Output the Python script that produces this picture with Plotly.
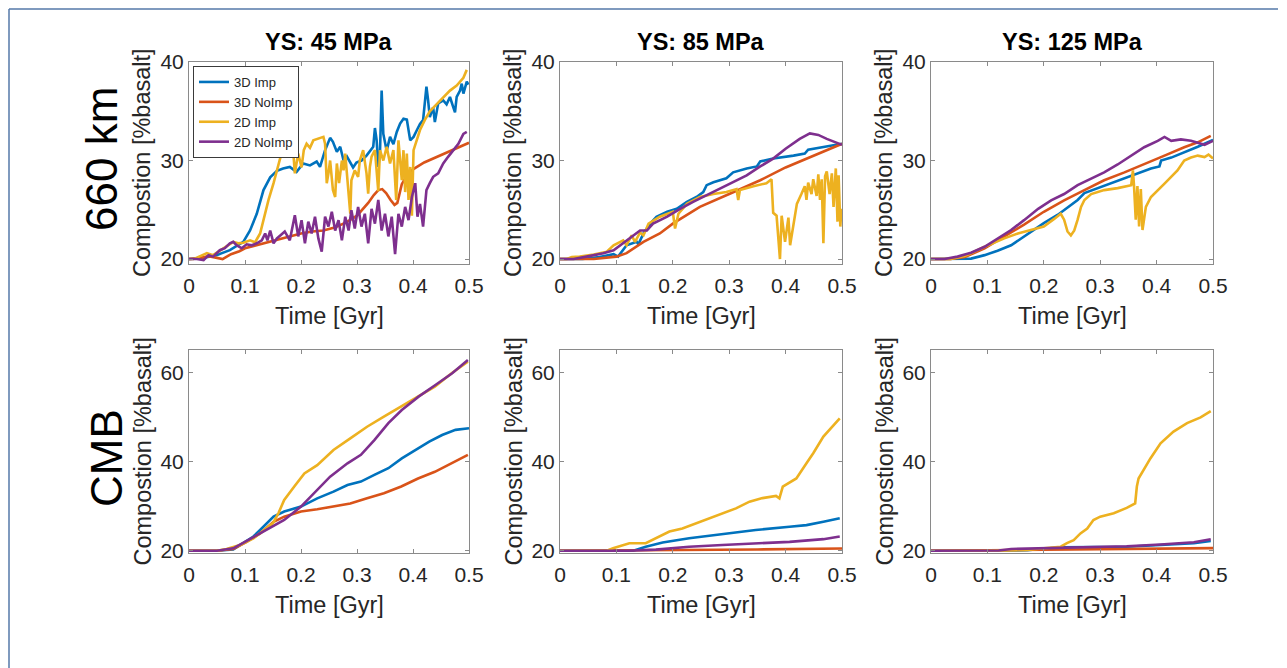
import plotly.graph_objects as go

# ---- series metadata ----
series_names = ["3D Imp", "3D NoImp", "2D Imp", "2D NoImp"]
series_colors = ["#0072BD", "#D95319", "#EDB120", "#7E2F8E"]
col_titles = ["YS: 45 MPa", "YS: 85 MPa", "YS: 125 MPa"]
row_titles = ["660 km", "CMB"]
x_ticks = [0, 0.1, 0.2, 0.3, 0.4, 0.5]
x_ticktext = ["0", "0.1", "0.2", "0.3", "0.4", "0.5"]
y_ticks_660 = [20, 30, 40]
y_ticks_cmb = [20, 40, 60]

# ---- 660 km, YS 45 MPa ----
t_660_45_3dimp = [0, 0.02, 0.049, 0.073, 0.097, 0.103, 0.109, 0.121, 0.133, 0.145, 0.157, 0.168, 0.18, 0.192,
                  0.204, 0.216, 0.228, 0.234, 0.243, 0.252, 0.257, 0.264, 0.27, 0.276, 0.282, 0.293, 0.299,
                  0.308, 0.317, 0.329, 0.332, 0.335, 0.338, 0.341, 0.344, 0.347, 0.353, 0.359, 0.365, 0.371,
                  0.377, 0.383, 0.389, 0.395, 0.401, 0.407, 0.4125, 0.418, 0.424, 0.427, 0.43, 0.436, 0.439,
                  0.445, 0.454, 0.46, 0.466, 0.472, 0.475, 0.478, 0.484, 0.487, 0.49, 0.496, 0.499]
v_660_45_3dimp = [20.0, 20.07, 20.4, 20.9, 21.75, 22.3, 22.9, 24.6, 27.0, 28.3, 28.95, 29.2, 29.35, 28.85,
                  29.7, 29.5, 29.9, 29.35, 31.05, 32.3, 31.9, 30.9, 31.4, 30.0, 30.4, 29.3, 29.8,
                  30.0, 30.5, 31.4, 33.3, 32.1, 29.35, 30.7, 37.1, 32.7, 31.0, 32.4, 31.65, 32.9,
                  33.75, 34.25, 34.15, 32.05, 32.4, 33.1, 33.7, 34.1, 37.5, 36.1, 34.4, 35.4, 33.9,
                  35.8, 36.1, 35.7, 36.45, 35.4, 34.9, 36.45, 37.1, 37.8, 36.8, 38.0, 37.7]

t_660_45_3dno = [0, 0.02, 0.035, 0.05, 0.06, 0.075, 0.09, 0.1, 0.12, 0.15, 0.18, 0.2, 0.22, 0.24, 0.26, 0.28,
                 0.3, 0.31, 0.32, 0.33, 0.338, 0.345, 0.352, 0.36, 0.367, 0.372, 0.38, 0.39, 0.4, 0.42, 0.44,
                 0.46, 0.48, 0.5]
v_660_45_3dno = [20.0, 20.1, 20.3, 20.1, 20.0, 20.5, 20.8, 21.1, 21.4, 21.8, 22.3, 22.6, 22.8, 22.9, 23.2, 23.7,
                 24.4, 25.0, 25.7, 26.5, 27.0, 27.1, 26.7, 26.0, 25.5, 25.7, 27.6, 28.6, 29.1, 29.8, 30.3,
                 30.8, 31.3, 31.8]

t_660_45_2dimp = [0, 0.008, 0.02, 0.032, 0.043, 0.055, 0.067, 0.079, 0.088, 0.097, 0.109, 0.118, 0.127, 0.133,
                  0.142, 0.151, 0.16, 0.165, 0.171, 0.177, 0.18, 0.186, 0.189, 0.195, 0.201, 0.205, 0.21,
                  0.216, 0.222, 0.231, 0.24, 0.243, 0.246, 0.249, 0.252, 0.257, 0.261, 0.264, 0.268, 0.273,
                  0.276, 0.279, 0.285, 0.288, 0.29, 0.296, 0.302, 0.305, 0.311, 0.317, 0.32, 0.323, 0.326,
                  0.332, 0.335, 0.338, 0.341, 0.347, 0.353, 0.359, 0.365, 0.37, 0.374, 0.38, 0.383, 0.386,
                  0.389, 0.392, 0.395, 0.398, 0.401, 0.407, 0.4125, 0.421, 0.43, 0.442, 0.454, 0.466, 0.478,
                  0.49, 0.496]
v_660_45_2dimp = [20.0, 20.0, 20.3, 20.6, 20.4, 20.85, 21.25, 21.75, 21.6, 21.65, 21.9, 21.7, 22.6, 23.95,
                  26.0, 27.7, 29.7, 30.7, 31.55, 31.4, 30.4, 31.05, 28.7, 30.7, 29.3, 31.05, 31.7,
                  31.3, 32.05, 32.2, 32.4, 31.7, 27.7, 28.7, 30.0, 27.0, 26.3, 29.7, 27.7, 30.0,
                  29.0, 30.7, 26.3, 24.6, 28.0, 29.0, 28.35, 30.0, 31.05, 28.7, 26.65, 29.35, 30.4,
                  31.05, 29.0, 26.9, 31.05, 30.0, 31.4, 29.7, 31.05, 26.0, 32.05, 28.0, 31.05, 26.8,
                  30.7, 26.0, 29.35, 24.4, 31.05, 32.05, 33.1, 34.1, 35.0, 35.7, 36.4, 37.1, 37.6,
                  38.4, 39.2]

t_660_45_2dno = [0, 0.014, 0.026, 0.035, 0.043, 0.055, 0.064, 0.073, 0.079, 0.085, 0.094, 0.103, 0.112, 0.121,
                 0.13, 0.136, 0.14, 0.145, 0.151, 0.157, 0.163, 0.171, 0.18, 0.189, 0.195, 0.201, 0.207,
                 0.213, 0.219, 0.225, 0.231, 0.237, 0.243, 0.249, 0.255, 0.261, 0.267, 0.273, 0.279, 0.285,
                 0.29, 0.296, 0.302, 0.308, 0.314, 0.32, 0.326, 0.332, 0.338, 0.344, 0.35, 0.356, 0.362,
                 0.368, 0.374, 0.38, 0.386, 0.392, 0.398, 0.404, 0.408, 0.4125, 0.418, 0.424, 0.43, 0.436,
                 0.445, 0.454, 0.463, 0.472, 0.481, 0.49, 0.496]
v_660_45_2dno = [20.0, 20.0, 19.9, 20.4, 20.25, 20.9, 21.1, 21.6, 21.75, 21.4, 21.1, 21.5, 21.4, 21.6,
                 21.9, 22.6, 21.9, 22.9, 21.6, 22.1, 22.4, 22.8, 21.9, 24.45, 22.3, 23.95, 21.6,
                 23.8, 22.6, 24.3, 22.1, 20.75, 24.3, 23.3, 24.8, 22.9, 23.95, 21.9, 24.3, 22.9,
                 24.95, 23.1, 25.3, 23.3, 24.6, 21.6, 25.1, 23.6, 26.0, 22.9, 24.6, 22.3, 24.3,
                 20.5, 24.6, 23.3, 25.3, 23.95, 26.3, 27.7, 24.3, 25.6, 23.3, 27.0, 27.7, 28.35,
                 28.7, 29.7, 30.4, 31.05, 31.7, 32.7, 32.9]

# ---- 660 km, YS 85 MPa ----
t_660_85_3dimp = [0, 0.04, 0.07, 0.095, 0.103, 0.118, 0.136, 0.139, 0.148, 0.16, 0.171, 0.19, 0.207, 0.225,
                  0.242, 0.254, 0.26, 0.272, 0.295, 0.307, 0.331, 0.349, 0.355, 0.378, 0.414, 0.434, 0.44,
                  0.461, 0.485, 0.5]
v_660_85_3dimp = [20.0, 20.0, 20.2, 20.5, 20.25, 21.4, 21.75, 21.5, 22.6, 23.6, 24.3, 24.8, 25.1, 25.8,
                  26.3, 26.8, 27.5, 27.8, 28.2, 28.8, 29.2, 29.4, 29.9, 30.2, 30.5, 30.7, 31.1,
                  31.3, 31.5, 31.7]

t_660_85_3dno = [0, 0.06, 0.1, 0.118, 0.148, 0.177, 0.2, 0.248, 0.3, 0.355, 0.4, 0.45, 0.5]
v_660_85_3dno = [20.0, 20.0, 20.25, 20.6, 21.75, 22.6, 23.6, 25.3, 26.6, 28.0, 29.3, 30.5, 31.7]

t_660_85_2dimp = [0, 0.012, 0.021, 0.035, 0.06, 0.083, 0.095, 0.112, 0.118, 0.127, 0.133, 0.142, 0.148, 0.157,
                  0.177, 0.2, 0.204, 0.21, 0.225, 0.248, 0.272, 0.295, 0.313, 0.316, 0.319, 0.343, 0.366,
                  0.375, 0.378, 0.384, 0.39, 0.393, 0.399, 0.405, 0.408, 0.414, 0.42, 0.428, 0.434, 0.437,
                  0.44, 0.446, 0.449, 0.455, 0.458, 0.461, 0.464, 0.467, 0.47, 0.473, 0.478, 0.482, 0.485,
                  0.489, 0.492, 0.494, 0.497, 0.499]
v_660_85_2dimp = [20.0, 20.0, 20.2, 20.25, 20.45, 20.75, 21.4, 21.9, 21.4, 22.4, 21.75, 22.7, 22.4, 23.6,
                  24.3, 24.8, 23.1, 24.6, 25.6, 26.3, 26.6, 26.8, 27.1, 26.0, 27.0, 27.4, 27.7,
                  28.1, 24.7, 24.4, 20.0, 24.4, 21.75, 24.2, 21.4, 23.6, 25.6, 26.6, 27.4, 26.0,
                  27.75, 26.6, 28.1, 26.4, 28.6, 26.0, 28.1, 21.6, 28.4, 28.9, 26.6, 28.7, 25.3,
                  29.2, 23.8, 28.5, 23.3, 25.1]

t_660_85_2dno = [0, 0.024, 0.047, 0.077, 0.095, 0.112, 0.13, 0.142, 0.154, 0.165, 0.19, 0.213, 0.236, 0.26,
                 0.284, 0.307, 0.331, 0.355, 0.378, 0.4, 0.425, 0.443, 0.458, 0.473, 0.488, 0.5]
v_660_85_2dno = [20.0, 20.0, 20.25, 20.6, 20.9, 21.6, 22.4, 22.9, 22.9, 23.6, 24.3, 25.1, 25.8, 26.5,
                 27.2, 27.85, 28.5, 29.4, 30.2, 31.2, 32.2, 32.75, 32.6, 32.2, 31.9, 31.6]

# ---- 660 km, YS 125 MPa ----
t_660_125_3dimp = [0, 0.047, 0.071, 0.095, 0.118, 0.142, 0.165, 0.177, 0.2, 0.225, 0.248, 0.26, 0.272, 0.295,
                   0.319, 0.343, 0.366, 0.39, 0.405, 0.408, 0.426, 0.449, 0.473, 0.5]
v_660_125_3dimp = [20.0, 20.0, 20.05, 20.4, 20.85, 21.4, 22.3, 22.8, 23.65, 24.5, 25.5, 26.0, 26.7, 27.2,
                   27.7, 28.2, 28.7, 29.2, 29.4, 30.0, 30.3, 30.8, 31.4, 32.1]

t_660_125_3dno = [0, 0.035, 0.06, 0.095, 0.13, 0.165, 0.2, 0.236, 0.272, 0.307, 0.343, 0.378, 0.414, 0.449,
                  0.473, 0.496]
v_660_125_3dno = [20.0, 20.0, 20.2, 21.1, 22.3, 23.5, 24.8, 25.95, 27.0, 28.0, 28.8, 29.6, 30.5, 31.35,
                  31.85, 32.5]

t_660_125_2dimp = [0, 0.035, 0.06, 0.095, 0.13, 0.154, 0.177, 0.2, 0.219, 0.23, 0.236, 0.242, 0.248, 0.254,
                   0.26, 0.266, 0.272, 0.284, 0.307, 0.331, 0.355, 0.358, 0.36, 0.363, 0.366, 0.369, 0.372,
                   0.375, 0.381, 0.39, 0.414, 0.437, 0.449, 0.461, 0.473, 0.485, 0.492, 0.5]
v_660_125_2dimp = [20.0, 20.0, 20.3, 21.25, 22.1, 22.6, 22.95, 23.3, 24.1, 24.6, 24.0, 22.8, 22.4, 22.9,
                   24.0, 25.3, 26.0, 26.6, 27.0, 27.2, 27.5, 29.0, 27.4, 24.0, 27.4, 23.3, 27.1,
                   22.95, 25.3, 26.3, 27.65, 29.0, 30.0, 30.3, 30.5, 30.35, 30.6, 30.2]

t_660_125_2dno = [0, 0.024, 0.047, 0.071, 0.095, 0.118, 0.142, 0.165, 0.19, 0.213, 0.236, 0.26, 0.284, 0.307,
                  0.331, 0.355, 0.378, 0.402, 0.414, 0.426, 0.443, 0.461, 0.473, 0.485, 0.5]
v_660_125_2dno = [20.0, 20.0, 20.25, 20.65, 21.25, 22.1, 22.95, 23.95, 25.1, 25.95, 26.6, 27.5, 28.2, 28.8,
                  29.6, 30.5, 31.35, 32.0, 32.4, 32.0, 32.15, 32.0, 31.8, 31.6, 32.0]

# ---- CMB, YS 45 MPa ----
t_cmb_45_3dimp = [0, 0.049, 0.079, 0.097, 0.115, 0.127, 0.139, 0.151, 0.17, 0.2, 0.229, 0.258, 0.283, 0.307,
                  0.331, 0.356, 0.38, 0.405, 0.429, 0.452, 0.476, 0.5]
v_cmb_45_3dimp = [20.0, 20.0, 20.3, 21.7, 23.2, 24.65, 26.15, 27.65, 28.8, 29.9, 31.75, 33.25, 34.75, 35.5,
                  37.0, 38.5, 40.7, 42.6, 44.45, 45.95, 47.1, 47.45]

t_cmb_45_3dno = [0, 0.05, 0.079, 0.103, 0.127, 0.151, 0.17, 0.2, 0.229, 0.258, 0.288, 0.318, 0.348, 0.379,
                 0.409, 0.439, 0.469, 0.498]
v_cmb_45_3dno = [20.0, 20.0, 20.4, 22.0, 23.9, 26.5, 27.65, 28.8, 29.3, 29.9, 30.6, 31.75, 32.9, 34.4,
                 36.2, 37.7, 39.6, 41.5]

t_cmb_45_2dimp = [0, 0.05, 0.067, 0.091, 0.115, 0.133, 0.15, 0.16, 0.17, 0.188, 0.206, 0.229, 0.258, 0.288,
                  0.318, 0.348, 0.379, 0.409, 0.439, 0.469, 0.498]
v_cmb_45_2dimp = [20.0, 20.0, 20.4, 21.3, 22.8, 24.65, 26.2, 28.5, 31.4, 34.4, 37.35, 39.2, 42.6, 45.2,
                  47.8, 50.05, 52.3, 54.55, 56.8, 59.8, 62.4]

t_cmb_45_2dno = [0, 0.05, 0.079, 0.103, 0.127, 0.145, 0.17, 0.2, 0.223, 0.252, 0.283, 0.307, 0.331, 0.356,
                 0.38, 0.41, 0.44, 0.47, 0.498]
v_cmb_45_2dno = [20.0, 20.0, 20.55, 22.2, 23.9, 25.0, 26.9, 29.9, 32.9, 36.6, 39.6, 41.5, 44.8, 48.6,
                 51.55, 54.55, 57.15, 59.8, 62.75]

# ---- CMB, YS 85 MPa ----
t_cmb_85_3dimp = [0, 0.13, 0.152, 0.182, 0.229, 0.288, 0.347, 0.407, 0.437, 0.467, 0.496]
v_cmb_85_3dimp = [20.0, 20.0, 20.9, 21.85, 22.8, 23.8, 24.65, 25.4, 25.75, 26.5, 27.3]

t_cmb_85_3dno = [0, 0.2, 0.35, 0.5]
v_cmb_85_3dno = [20.0, 20.1, 20.3, 20.5]

t_cmb_85_2dimp = [0, 0.083, 0.094, 0.111, 0.123, 0.152, 0.17, 0.194, 0.217, 0.241, 0.265, 0.288, 0.312,
                  0.336, 0.359, 0.383, 0.389, 0.395, 0.419, 0.437, 0.449, 0.467, 0.485, 0.496]
v_cmb_85_2dimp = [20.0, 20.0, 20.55, 21.3, 21.7, 21.7, 22.8, 24.3, 25.0, 26.15, 27.3, 28.4, 29.5,
                  31.0, 31.8, 32.3, 31.75, 34.4, 36.2, 39.6, 41.85, 45.6, 48.2, 49.7]

t_cmb_85_2dno = [0, 0.12, 0.17, 0.229, 0.288, 0.347, 0.407, 0.467, 0.496]
v_cmb_85_2dno = [20.0, 20.0, 20.25, 20.9, 21.3, 21.7, 22.0, 22.6, 23.2]

# ---- CMB, YS 125 MPa ----
t_cmb_125_3dimp = [0, 0.17, 0.23, 0.347, 0.407, 0.466, 0.496]
v_cmb_125_3dimp = [20.0, 20.1, 20.8, 20.9, 21.3, 21.7, 22.2]

t_cmb_125_3dno = [0, 0.2, 0.35, 0.5]
v_cmb_125_3dno = [20.0, 20.2, 20.4, 20.6]

t_cmb_125_2dimp = [0, 0.1, 0.17, 0.2, 0.23, 0.241, 0.253, 0.265, 0.277, 0.288, 0.3, 0.324, 0.347, 0.362,
                   0.365, 0.368, 0.377, 0.389, 0.407, 0.43, 0.454, 0.478, 0.496]
v_cmb_125_2dimp = [20.0, 20.0, 20.2, 20.55, 20.9, 21.7, 22.4, 23.9, 25.0, 26.9, 27.65, 28.4, 29.6, 30.6,
                   34.4, 36.2, 38.1, 40.7, 44.1, 46.7, 48.6, 49.9, 51.3]

t_cmb_125_2dno = [0, 0.12, 0.142, 0.2, 0.29, 0.347, 0.407, 0.466, 0.496]
v_cmb_125_2dno = [20.0, 20.05, 20.4, 20.55, 20.75, 21.0, 21.4, 21.9, 22.6]

panels = [
    [(t_660_45_3dimp, v_660_45_3dimp), (t_660_45_3dno, v_660_45_3dno),
     (t_660_45_2dimp, v_660_45_2dimp), (t_660_45_2dno, v_660_45_2dno)],
    [(t_660_85_3dimp, v_660_85_3dimp), (t_660_85_3dno, v_660_85_3dno),
     (t_660_85_2dimp, v_660_85_2dimp), (t_660_85_2dno, v_660_85_2dno)],
    [(t_660_125_3dimp, v_660_125_3dimp), (t_660_125_3dno, v_660_125_3dno),
     (t_660_125_2dimp, v_660_125_2dimp), (t_660_125_2dno, v_660_125_2dno)],
    [(t_cmb_45_3dimp, v_cmb_45_3dimp), (t_cmb_45_3dno, v_cmb_45_3dno),
     (t_cmb_45_2dimp, v_cmb_45_2dimp), (t_cmb_45_2dno, v_cmb_45_2dno)],
    [(t_cmb_85_3dimp, v_cmb_85_3dimp), (t_cmb_85_3dno, v_cmb_85_3dno),
     (t_cmb_85_2dimp, v_cmb_85_2dimp), (t_cmb_85_2dno, v_cmb_85_2dno)],
    [(t_cmb_125_3dimp, v_cmb_125_3dimp), (t_cmb_125_3dno, v_cmb_125_3dno),
     (t_cmb_125_2dimp, v_cmb_125_2dimp), (t_cmb_125_2dno, v_cmb_125_2dno)],
]

# ---- layout geometry (pixels) ----
W, H = 1287, 668
col_px = [(189, 469), (560, 842), (931, 1213)]
row_px = [(62, 264), (350, 553)]
FONT = "Liberation Sans, Arial, sans-serif"
TXT = "#262626"
AX = "#8a8a8a"


def px_x(x):
    return x / W


def px_y(y):
    return 1 - y / H


def label(text, x, y, size, color=TXT, angle=0):
    return dict(text=text, x=px_x(x), y=px_y(y), xref="paper", yref="paper",
                xanchor="center", yanchor="middle", showarrow=False, textangle=angle,
                font=dict(size=size, color=color, family=FONT))


fig = go.Figure()
layout = dict(
    width=W, height=H, margin=dict(l=0, r=0, t=0, b=0, pad=0),
    paper_bgcolor="white", plot_bgcolor="white",
    font=dict(family=FONT, color=TXT),
    showlegend=True,
    legend=dict(x=px_x(193), y=px_y(66), xanchor="left", yanchor="top",
                bgcolor="white", bordercolor="#3a3a3a", borderwidth=1,
                font=dict(size=13, color="#262626", family=FONT),
                tracegroupgap=0, itemwidth=30),
)

annotations = []
for p in range(6):
    r, c = divmod(p, 3)
    ax_id = "" if p == 0 else str(p + 1)
    x0, x1 = col_px[c]
    y0, y1 = row_px[r]
    ytv = y_ticks_660 if r == 0 else y_ticks_cmb
    yr = [19.5, 40] if r == 0 else [19.5, 65]
    layout["xaxis" + ax_id] = dict(
        domain=[px_x(x0), px_x(x1)], anchor="y" + ax_id, range=[0, 0.5],
        tickvals=x_ticks, ticktext=x_ticktext, ticks="inside", ticklen=4, tickcolor=AX,
        showline=True, linecolor=AX, linewidth=1, mirror="allticks", automargin=False,
        ticklabelstandoff=3,
        showgrid=False, zeroline=False, tickfont=dict(size=21, color=TXT, family=FONT),
    )
    layout["yaxis" + ax_id] = dict(
        domain=[px_y(y1), px_y(y0)], anchor="x" + ax_id, range=yr,
        tickvals=ytv, ticks="inside", ticklen=4, tickcolor=AX,
        showline=True, linecolor=AX, linewidth=1, mirror="allticks", automargin=False,
        showgrid=False, zeroline=False, tickfont=dict(size=21, color=TXT, family=FONT),
    )
    for k, (tt, vv) in enumerate(panels[p]):
        fig.add_trace(go.Scatter(
            x=tt, y=vv, mode="lines", name=series_names[k],
            line=dict(color=series_colors[k], width=2.6),
            xaxis="x" + ax_id, yaxis="y" + ax_id,
            showlegend=(p == 0), legendgroup=series_names[k],
        ))
    cx = (x0 + x1) / 2
    annotations.append(label("Time [Gyr]", cx, y1 + 52, 23.5))
    annotations.append(label("Compostion [%basalt]", x0 - 47, (y0 + y1) / 2, 23.5, angle=-90))

for c in range(3):
    cx = (col_px[c][0] + col_px[c][1]) / 2
    annotations.append(label("<b>" + col_titles[c] + "</b>", cx, 42, 23.5, color="black"))

annotations.append(label(row_titles[0], 101, 159, 44, color="black", angle=-90))
annotations.append(label(row_titles[1], 106, 458, 44, color="black", angle=-90))
layout["annotations"] = annotations

# thin frame along the top and left edges
FRAME = "#5578a8"
layout["shapes"] = [
    dict(type="line", xref="paper", yref="paper", x0=px_x(9), x1=px_x(1278), y0=px_y(9), y1=px_y(9),
         line=dict(color=FRAME, width=1.5)),
    dict(type="line", xref="paper", yref="paper", x0=px_x(9), x1=px_x(9), y0=px_y(9), y1=0,
         line=dict(color=FRAME, width=1.5)),
]

fig.update_layout(**layout)
fig.write_html(
    "out.html",
    post_script="document.body.style.margin='0';document.body.style.padding='0';"
                "document.documentElement.style.overflow='hidden';",
)
